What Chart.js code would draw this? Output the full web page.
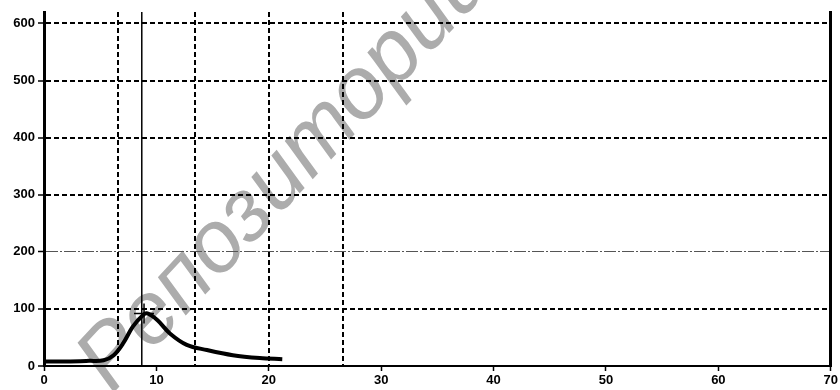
<!DOCTYPE html>
<html>
<head>
<meta charset="utf-8">
<script src="https://cdn.jsdelivr.net/npm/chart.js@4/dist/chart.umd.min.js"></script>
<style>
    html, body { margin: 0; padding: 0; background: #fff; overflow: hidden; }
    #wrap { position: relative; width: 840px; height: 390px; }
    #wm {
        position: absolute; left: 58px; top: 344px;
        font: italic 88px "Liberation Sans", Arial, sans-serif; line-height: 1;
        color: #acacac; white-space: nowrap;
        transform: rotate(-47deg); transform-origin: 0 0;
    }
    #chart { position: absolute; left: 0; top: 0; }
</style>
</head>
<body>
<div id="wrap">
    <div id="wm"></div>
    <canvas id="chart" width="840" height="390"></canvas>
</div>
<script>
const xTicks = [0, 10, 20, 30, 40, 50, 60, 70];
const yTicks = [0, 100, 200, 300, 400, 500, 600];
const gridX = [6.6, 13.4, 20.05, 26.6];   // extra vertical dashed lines
const curveX = [0, 2, 4, 5.3, 6.2, 7.05, 7.9, 8.8, 9.2, 10.1, 11.2, 12.7, 14.5, 16.8, 19.2, 21.2];
const curveY = [8, 8, 9, 10, 19, 40, 69, 89, 92, 80, 57, 37, 28, 19, 14, 12];
const markerX = 8.7;
const peakX = [8.9];
const peakY = [92];
const watermark = "Репозиторий";

document.getElementById("wm").textContent = watermark;

const tickFont = { family: "Liberation Sans", size: 13, weight: "bold" };
const toTicks = arr => scale => { scale.ticks = arr.map(v => ({ value: v })); };

new Chart(document.getElementById("chart"), {
    type: "line",
    data: {
        datasets: [{
            data: curveX.map((x, i) => ({ x, y: curveY[i] })),
            borderColor: "#000",
            borderWidth: 4,
            pointRadius: 0,
            tension: 0.35
        }, {
            data: [{ x: markerX, y: 0 }, { x: markerX, y: 620 }],
            borderColor: "#000",
            borderWidth: 1.5,
            pointRadius: 0
        }, {
            data: peakX.map((x, i) => ({ x, y: peakY[i] })),
            showLine: false,
            pointStyle: "cross",
            pointRadius: 10,
            pointBorderWidth: 1.5,
            pointBorderColor: "#000"
        }]
    },
    options: {
        responsive: false,
        animation: false,
        devicePixelRatio: 1,
        layout: { autoPadding: false, padding: { top: 12, right: 7, left: 0, bottom: 0 } },
        plugins: { legend: { display: false }, tooltip: { enabled: false } },
        scales: {
            x: {
                type: "linear", position: "bottom", min: 0, max: 70,
                afterBuildTicks: toTicks(xTicks),
                afterFit: s => { s.height = 24; },
                ticks: { color: "#000", font: tickFont, padding: 2, maxRotation: 0, autoSkip: false },
                grid: { drawOnChartArea: false, drawTicks: true, tickLength: 5, tickColor: "#000", tickWidth: 1.5 },
                border: { color: "#000", width: 2 }
            },
            x2: {
                type: "linear", position: "top", min: 0, max: 70,
                afterBuildTicks: toTicks(gridX),
                afterFit: s => { s.height = 0; },
                ticks: { display: false },
                grid: { drawTicks: false, color: "#000", lineWidth: 2 },
                border: { display: false, dash: [5, 3] }
            },
            y: {
                type: "linear", position: "left", min: 0, max: 620,
                afterBuildTicks: toTicks(yTicks),
                afterFit: s => { s.width = 44; },
                ticks: { color: "#000", font: tickFont, padding: 3 },
                grid: {
                    color: ctx => ctx.tick && ctx.tick.value === 200 ? "#555" : "#000",
                    lineWidth: ctx => ctx.tick && ctx.tick.value === 200 ? 1 : 2,
                    tickLength: 6, tickColor: "#000", tickWidth: 1.5, tickBorderDash: []
                },
                border: {
                    color: "#000", width: 3,
                    dash: ctx => ctx.tick ? (ctx.tick.value === 200 ? [12, 2, 2, 2] : [5, 3]) : []
                }
            },
            y2: {
                type: "linear", position: "right", min: 0, max: 620,
                afterFit: s => { s.width = 0; },
                ticks: { display: false },
                grid: { display: false },
                border: { color: "#000", width: 3 }
            }
        }
    }
});
</script>
</body>
</html>
